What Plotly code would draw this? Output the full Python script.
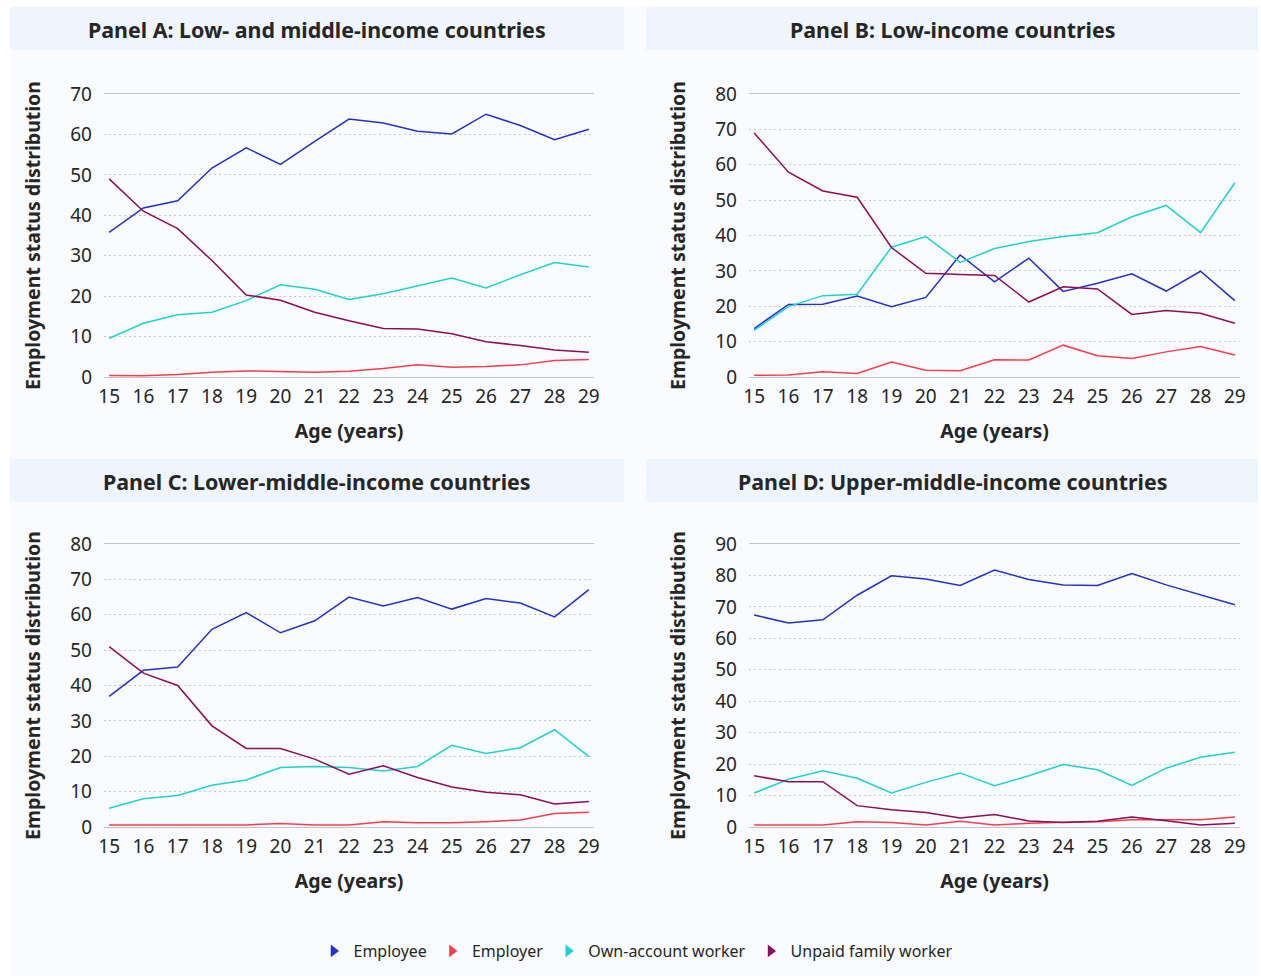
import plotly.graph_objects as go

# Ages on the horizontal axis
ages = list(range(15, 30))

series_names = ["Employee", "Employer", "Own-account worker", "Unpaid family worker"]
series_colors = ["#2332c4", "#fa3c4b", "#1fd2d2", "#8c0d5a"]

# Panel A: Low- and middle-income countries
a_employee = [35.8, 41.8, 43.6, 51.7, 56.7, 52.6, 58.3, 63.8, 62.8, 60.8, 60.1, 65.0, 62.2, 58.7, 61.3]
a_employer = [0.4, 0.3, 0.6, 1.2, 1.5, 1.3, 1.2, 1.4, 2.1, 3.0, 2.4, 2.6, 3.0, 4.1, 4.3]
a_own_account = [9.6, 13.3, 15.4, 16.0, 18.9, 22.8, 21.7, 19.2, 20.6, 22.6, 24.5, 22.0, 25.3, 28.3, 27.2]
a_unpaid = [49.0, 41.0, 36.7, 28.8, 20.3, 19.0, 16.0, 13.9, 12.0, 11.9, 10.7, 8.7, 7.8, 6.7, 6.1]

# Panel B: Low-income countries
b_employee = [13.7, 20.5, 20.6, 22.9, 19.9, 22.5, 34.5, 26.9, 33.6, 24.2, 26.5, 29.2, 24.3, 29.9, 21.6]
b_employer = [0.5, 0.6, 1.5, 1.0, 4.2, 1.9, 1.8, 4.9, 4.8, 9.0, 6.0, 5.2, 7.1, 8.6, 6.2]
b_own_account = [13.2, 19.9, 23.0, 23.4, 36.7, 39.7, 32.4, 36.3, 38.3, 39.7, 40.8, 45.3, 48.5, 40.8, 54.9]
b_unpaid = [69.0, 57.9, 52.6, 50.8, 36.6, 29.3, 29.0, 28.7, 21.2, 25.5, 24.9, 17.7, 18.8, 18.0, 15.2]

# Panel C: Lower-middle-income countries
c_employee = [36.9, 44.3, 45.2, 55.9, 60.6, 54.9, 58.3, 65.0, 62.5, 64.9, 61.6, 64.6, 63.3, 59.4, 67.1]
c_employer = [0.6, 0.6, 0.6, 0.6, 0.6, 1.0, 0.6, 0.6, 1.5, 1.2, 1.2, 1.5, 2.0, 3.8, 4.2]
c_own_account = [5.3, 8.0, 8.9, 11.8, 13.3, 16.8, 17.1, 16.8, 15.8, 17.1, 23.1, 20.8, 22.4, 27.5, 19.9]
c_unpaid = [51.0, 43.5, 40.0, 28.6, 22.2, 22.2, 19.2, 14.9, 17.3, 14.0, 11.3, 9.8, 9.1, 6.5, 7.2]

# Panel D: Upper-middle-income countries
d_employee = [67.4, 64.9, 65.9, 73.7, 79.9, 78.9, 76.8, 81.7, 78.7, 77.0, 76.8, 80.6, 77.0, 73.9, 70.7]
d_employer = [0.6, 0.6, 0.6, 1.7, 1.4, 0.6, 1.8, 0.6, 1.2, 1.5, 1.7, 2.3, 2.3, 2.3, 3.2]
d_own_account = [10.8, 15.2, 17.9, 15.5, 10.8, 14.2, 17.2, 13.1, 16.3, 19.9, 18.2, 13.2, 18.7, 22.2, 23.8]
d_unpaid = [16.3, 14.4, 14.4, 6.8, 5.5, 4.6, 2.9, 4.0, 1.9, 1.4, 1.8, 3.2, 2.0, 0.6, 1.2]

panel_titles = [
    "Panel A: Low- and middle-income countries",
    "Panel B: Low-income countries",
    "Panel C: Lower-middle-income countries",
    "Panel D: Upper-middle-income countries",
]
panel_data = [
    [a_employee, a_employer, a_own_account, a_unpaid],
    [b_employee, b_employer, b_own_account, b_unpaid],
    [c_employee, c_employer, c_own_account, c_unpaid],
    [d_employee, d_employer, d_own_account, d_unpaid],
]
y_max = [70, 80, 80, 90]

W, H = 1261, 979
FONT = "Noto Sans"
TEXT = "#262626"

def fx(px):
    return px / W

def fy(py):
    return 1 - py / H

# plot boxes in pixels: (left, right, top, bottom)
boxes = [
    (104, 594, 94, 377),
    (749, 1240, 94, 377),
    (104, 594, 544, 827),
    (749, 1240, 544, 827),
]
# title bars in pixels: (left, right, top, bottom)
bars = [
    (10, 624, 7, 50),
    (646, 1258, 7, 50),
    (10, 624, 459, 502),
    (646, 1258, 459, 502),
]

fig = go.Figure()
layout = {}
shapes = [
    dict(type="rect", xref="paper", yref="paper", x0=fx(10), x1=fx(1258), y0=fy(976), y1=fy(6),
         fillcolor="#f9fbfe", line=dict(width=0), layer="below"),
]
annotations = []

for i, (title, data, ymax, box, bar) in enumerate(zip(panel_titles, panel_data, y_max, boxes, bars)):
    n = "" if i == 0 else str(i + 1)
    xa, ya = "x" + n, "y" + n
    for name, color, vals in zip(series_names, series_colors, data):
        fig.add_trace(go.Scatter(
            x=ages, y=vals, mode="lines", name=name, showlegend=False,
            line=dict(color=color, width=1.5), xaxis=xa, yaxis=ya,
        ))
    left, right, top, bottom = box
    layout["xaxis" + n] = dict(
        domain=[fx(left), fx(right)], anchor=ya, range=[14.85, 29.15], automargin=False,
        tickmode="linear", tick0=15, dtick=1, showgrid=False, zeroline=False,
        showline=True, mirror=True, linecolor="#c4c4c4", linewidth=1,
        ticks="", ticklabelstandoff=2,
        tickfont=dict(family=FONT, size=19, color=TEXT),
        title=dict(text="<b>Age (years)</b>", standoff=16,
                   font=dict(family=FONT, size=19.5, color=TEXT)),
    )
    layout["yaxis" + n] = dict(
        domain=[fy(bottom), fy(top)], anchor=xa, range=[0, ymax], automargin=False,
        tickmode="linear", tick0=0, dtick=10, showgrid=True,
        gridcolor="#c8c8c8", griddash="2px,3px", gridwidth=1, zeroline=False,
        showline=False, ticks="", ticklabelstandoff=11,
        tickfont=dict(family=FONT, size=19, color=TEXT),
        title=dict(text="<b>Employment status distribution</b>", standoff=24,
                   font=dict(family=FONT, size=19.5, color=TEXT)),
    )
    bl, br, bt, bb = bar
    shapes.append(dict(type="rect", xref="paper", yref="paper", x0=fx(bl), x1=fx(br),
                       y0=fy(bb), y1=fy(bt), fillcolor="#eef5fc", line=dict(width=0),
                       layer="below"))
    annotations.append(dict(
        text="<b>" + title + "</b>", xref="paper", yref="paper",
        x=fx((bl + br) / 2), y=fy((bt + bb) / 2 + 1), xanchor="center", yanchor="middle",
        showarrow=False, font=dict(family=FONT, size=21.4, color=TEXT),
    ))

# Legend entries shown as triangles
for name, color in zip(series_names, series_colors):
    fig.add_trace(go.Scatter(
        x=[None], y=[None], mode="markers", name=name,
        marker=dict(symbol="triangle-right", size=11, color=color),
        xaxis="x", yaxis="y", showlegend=True,
    ))

fig.update_layout(
    **layout,
    width=W, height=H, autosize=False,
    margin=dict(l=0, r=0, t=0, b=0, pad=0, autoexpand=False),
    paper_bgcolor="white", plot_bgcolor="rgba(0,0,0,0)",
    shapes=shapes, annotations=annotations,
    showlegend=True,
    legend=dict(orientation="h", x=fx(636), y=fy(951), xanchor="center", yanchor="middle",
                font=dict(family=FONT, size=16, color=TEXT), bgcolor="rgba(0,0,0,0)",
                itemwidth=30, traceorder="normal"),
    font=dict(family=FONT, color=TEXT),
)

fig.write_html("out.html")
